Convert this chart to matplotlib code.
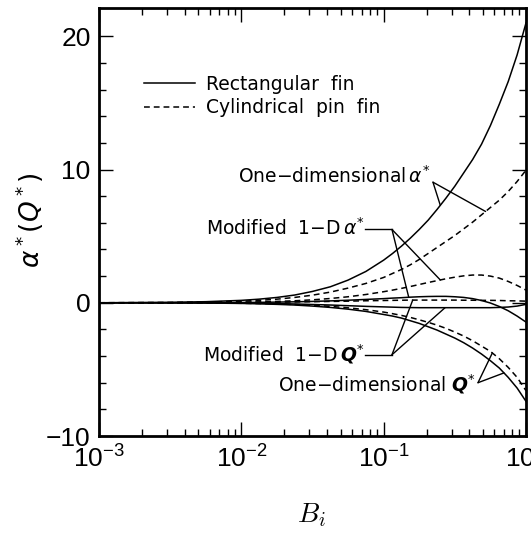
import numpy as np
import matplotlib
matplotlib.use('Agg')
import matplotlib.pyplot as plt

# Biot number grid
bi = np.array([0.001, 0.00316, 0.00562, 0.01, 0.0133, 0.0178, 0.0237, 0.0316, 0.0422,
               0.0562, 0.075, 0.1, 0.1155, 0.1334, 0.154, 0.1778, 0.2054, 0.2371,
               0.2738, 0.3162, 0.3652, 0.4217, 0.487, 0.5623, 0.6494, 0.7499, 0.866, 1.0])

# rectangular fin (solid)
alpha_1d_rect = [0.0, 0.035, 0.08, 0.18, 0.27, 0.4, 0.58, 0.85, 1.2, 1.7, 2.35, 3.2, 3.7,
                 4.25, 4.85, 5.5, 6.2, 7.0, 7.85, 8.75, 9.75, 10.75, 11.9, 13.3, 14.9,
                 16.6, 18.6, 21.0]
alpha_mod_rect = [0.0, 0.0, 0.01, 0.02, 0.03, 0.05, 0.07, 0.1, 0.14, 0.19, 0.25, 0.31, 0.35,
                  0.38, 0.42, 0.45, 0.47, 0.48, 0.48, 0.45, 0.4, 0.31, 0.17, -0.02, -0.28,
                  -0.6, -1.0, -1.45]
q_1d_rect = [0.0, -0.01, -0.02, -0.05, -0.08, -0.12, -0.17, -0.25, -0.35, -0.48, -0.65,
             -0.88, -1.0, -1.15, -1.35, -1.55, -1.8, -2.05, -2.35, -2.65, -3.0, -3.4,
             -3.85, -4.35, -4.9, -5.6, -6.4, -7.4]
q_mod_rect = [0.0, 0.0, -0.01, -0.03, -0.04, -0.06, -0.09, -0.13, -0.17, -0.22, -0.27,
              -0.31, -0.33, -0.35, -0.36, -0.37, -0.37, -0.37, -0.37, -0.37, -0.37, -0.37,
              -0.37, -0.37, -0.35, -0.32, -0.25, -0.12]

# cylindrical pin fin (dashed)
alpha_1d_cyl = [0.0, 0.02, 0.05, 0.12, 0.18, 0.27, 0.4, 0.57, 0.8, 1.1, 1.45, 1.9, 2.2, 2.5,
                2.85, 3.25, 3.7, 4.15, 4.6, 5.05, 5.55, 6.05, 6.6, 7.15, 7.7, 8.35, 9.1, 9.95]
alpha_mod_cyl = [0.0, 0.01, 0.02, 0.04, 0.065, 0.1, 0.15, 0.22, 0.32, 0.45, 0.62, 0.83, 0.95,
                 1.08, 1.22, 1.37, 1.52, 1.66, 1.8, 1.92, 2.02, 2.08, 2.08, 2.0, 1.85, 1.6,
                 1.3, 0.95]
q_1d_cyl = [0.0, -0.01, -0.02, -0.04, -0.06, -0.09, -0.13, -0.19, -0.27, -0.38, -0.52, -0.7,
            -0.82, -0.95, -1.1, -1.28, -1.47, -1.68, -1.92, -2.2, -2.5, -2.85, -3.25, -3.65,
            -4.2, -4.85, -5.6, -6.6]
q_mod_cyl = [0.0, 0.0, 0.01, 0.02, 0.03, 0.04, 0.06, 0.08, 0.1, 0.12, 0.15, 0.17, 0.18, 0.19,
             0.2, 0.2, 0.2, 0.2, 0.2, 0.2, 0.19, 0.19, 0.18, 0.18, 0.17, 0.15, 0.14, 0.12]

# axis numbers in a Helvetica-like face (also used for the 10^n mathtext)
tickfont = 'Liberation Sans'
ticksize = 19
plt.rcParams['mathtext.fontset'] = 'custom'
plt.rcParams['mathtext.rm'] = tickfont
plt.rcParams['mathtext.it'] = tickfont + ':italic'
plt.rcParams['mathtext.bf'] = tickfont + ':bold'

fig = plt.figure(figsize=(5.31, 5.35), dpi=100)
ax = fig.add_axes([99 / 531, 99 / 535, 427 / 531, 427.7 / 535])

lw = 1.1
dash = (0, (3.8, 2.6))
h1, = ax.plot(bi, alpha_1d_rect, 'k-', lw=lw)
ax.plot(bi, alpha_mod_rect, 'k-', lw=lw)
ax.plot(bi, q_1d_rect, 'k-', lw=lw)
ax.plot(bi, q_mod_rect, 'k-', lw=lw)
h2, = ax.plot(bi, alpha_1d_cyl, 'k', ls=dash, lw=lw)
ax.plot(bi, alpha_mod_cyl, 'k', ls=dash, lw=lw)
ax.plot(bi, q_1d_cyl, 'k', ls=dash, lw=lw)
ax.plot(bi, q_mod_cyl, 'k', ls=dash, lw=lw)

ax.set_xscale('log')
ax.set_xlim(1e-3, 1.0)
ax.set_ylim(-10, 22.1)
ax.set_yticks([-10, 0, 10, 20])
ax.set_yticks(np.arange(-10, 22, 2), minor=True)

ax.tick_params(which='both', direction='in', top=True, right=True, width=1.0)
ax.tick_params(which='major', length=10)
ax.tick_params(which='minor', length=5)
ax.tick_params(axis='x', which='major', pad=7)
ax.tick_params(axis='y', which='major', pad=6)
for s in ax.spines.values():
    s.set_linewidth(2.0)
ax.set_yticklabels(['\u221210', '0', '10', '20'])
for lab in ax.get_xticklabels() + ax.get_yticklabels():
    lab.set_fontfamily(tickfont)
    lab.set_fontsize(ticksize)

ax.set_ylabel(r'$\alpha^*(Q^*)$', fontsize=19, va='center', math_fontfamily='dejavusans')
ax.yaxis.set_label_coords(-0.162, 0.505)
ax.set_xlabel(r'$B_i$', fontsize=20, va='center', math_fontfamily='cm')
ax.xaxis.set_label_coords(0.497, -0.185)

leg = ax.legend([h1, h2], ['Rectangular  fin', 'Cylindrical  pin  fin'],
                loc='upper left', bbox_to_anchor=(0.105, 0.845), frameon=False,
                fontsize=13.5, handlelength=2.75, handletextpad=0.55,
                labelspacing=0.25, borderpad=0, borderaxespad=0)


def on_curve(b, series):
    return b, np.interp(np.log10(b), np.log10(bi), series)


def fork(apex, targets):
    for b, series in targets:
        ax.annotate('', xy=on_curve(b, series), xytext=apex,
                    arrowprops=dict(arrowstyle='-', color='k', lw=1.0,
                                    shrinkA=0, shrinkB=0))


fs = 13.5
mf = 'dejavusans'
# one-dimensional alpha*
ax.text(0.212, 9.5, r'One$-$dimensional$\,\alpha^{*}$', ha='right', va='center',
        fontsize=fs, math_fontfamily=mf)
fork((0.222, 9.05), [(0.25, alpha_1d_rect), (0.52, alpha_1d_cyl)])

# modified alpha*
ax.text(0.073, 5.6, r'Modified  1$-$D$\,\alpha^{*}$', ha='right', va='center',
        fontsize=fs, math_fontfamily=mf)
ax.plot([0.074, 0.1144], [5.5, 5.5], 'k-', lw=1.0)
fork((0.1144, 5.5), [(0.15, alpha_mod_rect), (0.25, alpha_mod_cyl)])

# modified Q*
ax.text(0.073, -3.85, r'Modified  1$-$D$\,\mathbfit{Q}^{*}$', ha='right', va='center',
        fontsize=fs, math_fontfamily=mf)
ax.plot([0.074, 0.1144], [-3.9, -3.9], 'k-', lw=1.0)
fork((0.1144, -3.9), [(0.16, q_mod_cyl), (0.27, q_mod_rect)])

# one-dimensional Q*
ax.text(0.445, -6.15, r'One$-$dimensional $\mathbfit{Q}^{*}$', ha='right', va='center',
        fontsize=fs, math_fontfamily=mf)
fork((0.46, -6.0), [(0.58, q_1d_cyl), (0.70, q_1d_rect)])

fig.savefig('out.png', dpi=100)
